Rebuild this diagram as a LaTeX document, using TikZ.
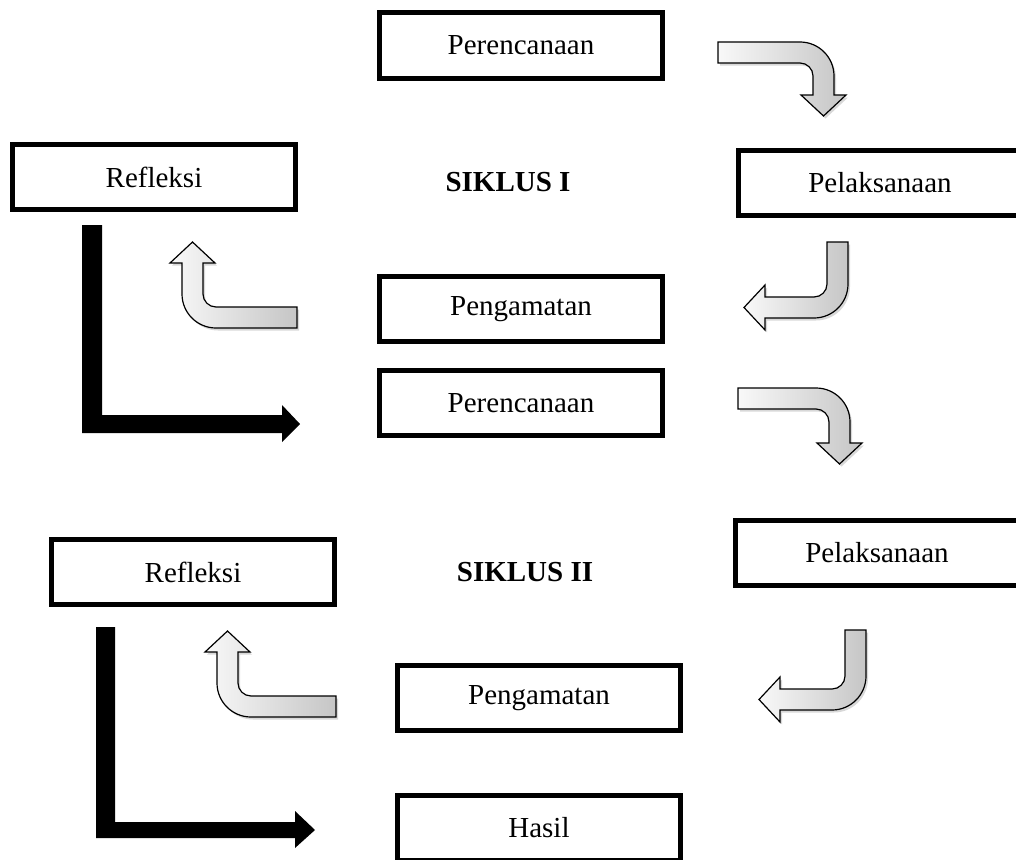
\documentclass[tikz,border=0pt]{standalone}
\usepackage{fontspec}
\setmainfont{Liberation Serif}
\usetikzlibrary{shadows}
\tikzset{
  kotak/.style={draw, line width=5pt, minimum width=283pt, minimum height=65pt,
    inner sep=0pt, font=\fontsize{29}{34}\selectfont},
  judul/.style={font=\fontsize{29}{34}\selectfont\bfseries},
  panahabu/.style={draw, line width=1.2pt, left color=gray!5, right color=gray!45,
    drop shadow={shadow xshift=2pt, shadow yshift=-2.5pt, fill=gray!60}},
  panahhitam/.style={fill=black}
}
\newcommand{\kotak}[3]{\node [kotak] (#1) at (#2) {#3}}
% #1 ujung ekor, #2 putar, #3 panjang kaki, #4 jarak ke kepala
\newcommand{\belok}[4]{%
  \begin{scope}[shift={(#1)}, y=1pt, rotate=#2]
    \path[panahabu] (0,0) -- ({#3-34},0) arc[start angle=90, end angle=0, radius=34]
      -- (#3,-#4) -- ({#3+12},-#4) -- ({#3-10.5},{-#4-21}) -- ({#3-33},-#4)
      -- ({#3-21},-#4) -- ({#3-21},-34) arc[start angle=0, end angle=90, radius=13]
      -- (0,-21) -- cycle;
  \end{scope}}

\begin{document}
\begin{tikzpicture}[x=1pt, y=-1pt]
\useasboundingbox (0,0) rectangle (1016,859);

% siklus I
\kotak{REN1}{521,45.5}{Perencanaan};
\kotak{REF1}{154,177}{Refleksi};
\kotak{LAK1}{880,183}{Pelaksanaan};
\kotak{AMA1}{521,309}{Pengamatan};
\node [judul] (SIK1) at (508,182) {SIKLUS I};

% siklus II
\kotak{REN2}{521,403}{Perencanaan};
\kotak{REF2}{193,572}{Refleksi};
\kotak{LAK2}{877,553}{Pelaksanaan};
\kotak{AMA2}{539,698}{Pengamatan};
\kotak{HAS}{539,828}{Hasil};
\node [judul] (SIK2) at (525,572) {SIKLUS II};

\belok{718,42}{0}{116}{53};
\belok{848,242}{-90}{76}{83};
\belok{297,328}{180}{115}{65};
\belok{738,388}{0}{112}{55};
\belok{866,630}{-90}{80}{86};
\belok{336,717}{180}{119}{65};

\fill[panahhitam] (82,225) -- (102,225) -- (102,415) -- (282,415) -- (282,405)
  -- (300,424) -- (282,442) -- (282,433) -- (82,433) -- cycle;
\fill[panahhitam] (96,627) -- (115,627) -- (115,822) -- (295,822) -- (295,811)
  -- (315,830) -- (295,848) -- (295,838) -- (96,838) -- cycle;

\end{tikzpicture}
\end{document}
